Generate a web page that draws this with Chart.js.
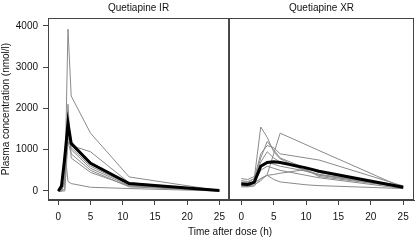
<!DOCTYPE html>
<html>
<head>
<meta charset="utf-8">
<script src="https://cdn.jsdelivr.net/npm/chart.js@4/dist/chart.umd.min.js"></script>
<style>
  html, body { margin: 0; padding: 0; background: #fff; }
  #wrap { position: relative; width: 416px; height: 240px; overflow: hidden; font-family: "Liberation Sans", Arial, sans-serif; }
  #irChart { position: absolute; left: 0; top: 0; }
  #xrChart { position: absolute; left: 229px; top: 0; }
  #xTitle { position: absolute; left: 0; width: 460px; top: 226px; text-align: center; font-size: 10px; color: #111; }
</style>
</head>
<body>
<div id="wrap">
  <canvas id="irChart" width="231" height="240"></canvas>
  <canvas id="xrChart" width="187" height="240"></canvas>
  <div id="xTitle">Time after dose (h)</div>
</div>
<script>
// tick labels
const yTicks = [0, 1000, 2000, 3000, 4000];
const xTicks = [0, 5, 10, 15, 20, 25];

// Quetiapine IR
const irTimes = [0, 0.5, 1, 1.5, 2, 5, 11, 25];
const irMean = [0, 120, 800, 1640, 1150, 670, 180, 10];
const irSubjects = [
  [0, 0, 50, 3920, 2300, 1400, 340, 10],
  [0, 0, 200, 2100, 800, 450, 120, 5],
  [0, 100, 800, 1450, 1100, 950, 200, 10],
  [0, 0, 1000, 230, 180, 90, 60, 0],
  [0, 0, 300, 1300, 1050, 600, 150, 10],
  [0, 50, 600, 1500, 1000, 550, 130, 10],
  [0, 200, 900, 1700, 1200, 700, 180, 10],
  [0, 0, 0, 1200, 900, 500, 100, 5]
];

// Quetiapine XR
const xrTimes = [0, 1, 2, 3, 4, 5, 6, 10, 12, 25];
const xrMean = [170, 160, 210, 600, 690, 710, 690, 560, 480, 90];
const xrSubjects = [
  [220, 200, 300, 1550, 1300, 950, 780, 480, 380, 100],
  [150, 120, 150, 250, 400, 900, 1400, 1120, 980, 80],
  [250, 230, 300, 900, 1100, 1050, 900, 800, 750, 120],
  [150, 150, 250, 700, 950, 800, 700, 500, 400, 90],
  [300, 280, 350, 600, 700, 650, 600, 480, 400, 130],
  [100, 100, 120, 300, 380, 280, 220, 150, 130, 60],
  [200, 190, 200, 300, 380, 400, 430, 520, 350, 90],
  [180, 170, 250, 800, 1200, 1000, 800, 550, 450, 100],
  [120, 110, 200, 500, 600, 550, 500, 380, 320, 60]
];

const axisColor = '#444';
const font = { family: '"Liberation Sans", Arial, sans-serif', size: 10 };

function pts(times, vals) {
  return times.map((t, i) => ({ x: t, y: vals[i] }));
}

function makeDatasets(times, mean, subjects) {
  const ds = [{
    data: pts(times, mean),
    borderColor: '#000',
    borderWidth: 3,
    pointRadius: 0,
    tension: 0
  }];
  subjects.forEach(s => {
    ds.push({
      data: pts(times, s),
      borderColor: '#8a8a8a',
      borderWidth: 1,
      pointRadius: 0,
      tension: 0
    });
  });
  return ds;
}

// frame around the plot area and panel title
const framePlugin = {
  id: 'frame',
  afterDraw(chart, args, opts) {
    const a = chart.chartArea;
    const ctx = chart.ctx;
    ctx.save();
    ctx.strokeStyle = axisColor;
    ctx.lineWidth = 1;
    ctx.strokeRect(a.left + 0.5, a.top + 0.5, a.right - a.left - 1, a.bottom - a.top - 1);
    ctx.fillStyle = '#111';
    ctx.font = '10px "Liberation Sans", Arial, sans-serif';
    ctx.textAlign = 'center';
    ctx.textBaseline = 'middle';
    ctx.fillText(opts.text, (a.left + a.right) / 2, 8);
    ctx.restore();
  }
};

function makeConfig(times, mean, subjects, title, xMin, xMax, showY, padding) {
  return {
    type: 'line',
    data: { datasets: makeDatasets(times, mean, subjects) },
    options: {
      responsive: false,
      animation: false,
      devicePixelRatio: 1,
      layout: { padding: padding },
      plugins: {
        legend: { display: false },
        title: { display: false },
        tooltip: { enabled: false },
        frame: { text: title }
      },
      scales: {
        x: {
          type: 'linear',
          min: xMin,
          max: xMax,
          afterBuildTicks: s => { s.ticks = xTicks.map(v => ({ value: v })); },
          afterFit: s => { s.height = 40; },
          ticks: { color: '#111', font: font, padding: 6, maxRotation: 0 },
          grid: { drawOnChartArea: false, drawTicks: true, tickLength: 5, color: axisColor },
          border: { display: true, color: axisColor }
        },
        y: {
          display: showY,
          min: -218,
          max: 4189,
          afterBuildTicks: s => { s.ticks = yTicks.map(v => ({ value: v })); },
          afterFit: s => { s.width = showY ? 48 : 0; },
          ticks: { color: '#111', font: font, padding: 5, callback: v => String(v) },
          grid: { drawOnChartArea: false, drawTicks: true, tickLength: 5, color: axisColor },
          border: { display: true, color: axisColor },
          title: {
            display: true,
            text: 'Plasma concentration (nmol/l)',
            color: '#111',
            font: font,
            padding: { top: 0, bottom: 0 }
          }
        }
      }
    },
    plugins: [framePlugin]
  };
}

const irChart = new Chart(document.getElementById('irChart').getContext('2d'),
  makeConfig(irTimes, irMean, irSubjects, 'Quetiapine IR', -1.6, 26.5, true,
    { top: 18, left: 0, right: 1, bottom: 0 }));

const xrChart = new Chart(document.getElementById('xrChart').getContext('2d'),
  makeConfig(xrTimes, xrMean, xrSubjects, 'Quetiapine XR', -1.9, 26.67, false,
    { top: 18, left: 0, right: 2, bottom: 0 }));
</script>
</body>
</html>
